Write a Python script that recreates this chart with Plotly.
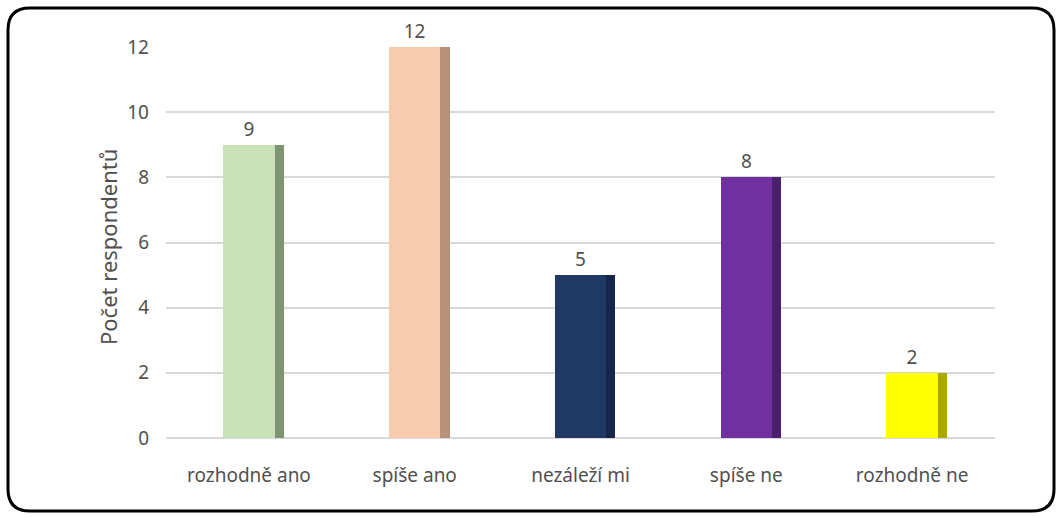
import plotly.graph_objects as go

categories = ["rozhodně ano", "spíše ano", "nezáleží mi", "spíše ne", "rozhodně ne"]
values = [9, 12, 5, 8, 2]
front_colors = ["#C9E2B8", "#F8CBAD", "#203864", "#7030A0", "#FFFF00"]
side_colors = ["#7E9570", "#B8917A", "#15264A", "#4A1F6C", "#A9A900"]
y_ticks = [0, 2, 4, 6, 8, 10, 12]
y_title = "Počet respondentů"

FONT = "Noto Sans"
TXT = "#505050"

fig = go.Figure()
# darker side face (behind the front face, shifted right)
fig.add_trace(go.Bar(
    x=categories, y=values, width=0.31, offset=-0.155 + 0.055,
    marker=dict(color=side_colors, line=dict(width=0)),
    hoverinfo="skip", showlegend=False,
))
# front face
fig.add_trace(go.Bar(
    x=categories, y=values, width=0.31, offset=-0.155,
    marker=dict(color=front_colors, line=dict(width=0)),
    text=[str(v) for v in values], textposition="outside",
    textfont=dict(family=FONT, size=19, color=TXT),
    cliponaxis=False, showlegend=False,
))

# plot area in pixels
L, R, T, B = 166, 995, 47, 438
W, H = 1060, 517
pw, ph = R - L, B - T

def px_x(x):
    return (x - L) / pw

def px_y(y):
    return (B - y) / ph

x0, x1, y0, y1, r = 8, 1054, 8, 511, 22
path = (
    f"M {px_x(x0 + r)},{px_y(y0)} L {px_x(x1 - r)},{px_y(y0)} "
    f"Q {px_x(x1)},{px_y(y0)} {px_x(x1)},{px_y(y0 + r)} "
    f"L {px_x(x1)},{px_y(y1 - r)} "
    f"Q {px_x(x1)},{px_y(y1)} {px_x(x1 - r)},{px_y(y1)} "
    f"L {px_x(x0 + r)},{px_y(y1)} "
    f"Q {px_x(x0)},{px_y(y1)} {px_x(x0)},{px_y(y1 - r)} "
    f"L {px_x(x0)},{px_y(y0 + r)} "
    f"Q {px_x(x0)},{px_y(y0)} {px_x(x0 + r)},{px_y(y0)} Z"
)

fig.update_layout(
    width=W, height=H,
    margin=dict(l=L, r=W - R, t=T, b=H - B),
    paper_bgcolor="white", plot_bgcolor="white",
    barmode="overlay", bargap=0,
    font=dict(family=FONT, size=19, color=TXT),
    shapes=[dict(type="path", path=path, xref="paper", yref="paper",
                 line=dict(color="black", width=3), fillcolor="rgba(0,0,0,0)",
                 layer="above")],
    annotations=[dict(text=y_title, textangle=-90, xref="paper", yref="paper",
                      x=px_x(91), y=px_y(247), showarrow=False,
                      font=dict(family=FONT, size=22, color=TXT))],
)
fig.update_xaxes(showline=False, showgrid=False, ticks="",
                 tickfont=dict(family=FONT, size=19, color=TXT),
                 ticklabelstandoff=24, range=[-0.5, 4.5])
fig.update_yaxes(range=[0, 12], tickvals=y_ticks, showgrid=True,
                 gridcolor="#D9D9D9", gridwidth=2, zeroline=True,
                 zerolinecolor="#D9D9D9", zerolinewidth=2,
                 showline=False, ticks="",
                 tickfont=dict(family=FONT, size=19, color=TXT),
                 ticklabelstandoff=16)

fig.write_html("out.html", config={"displayModeBar": False},
               post_script="document.body.style.margin='0px';")
